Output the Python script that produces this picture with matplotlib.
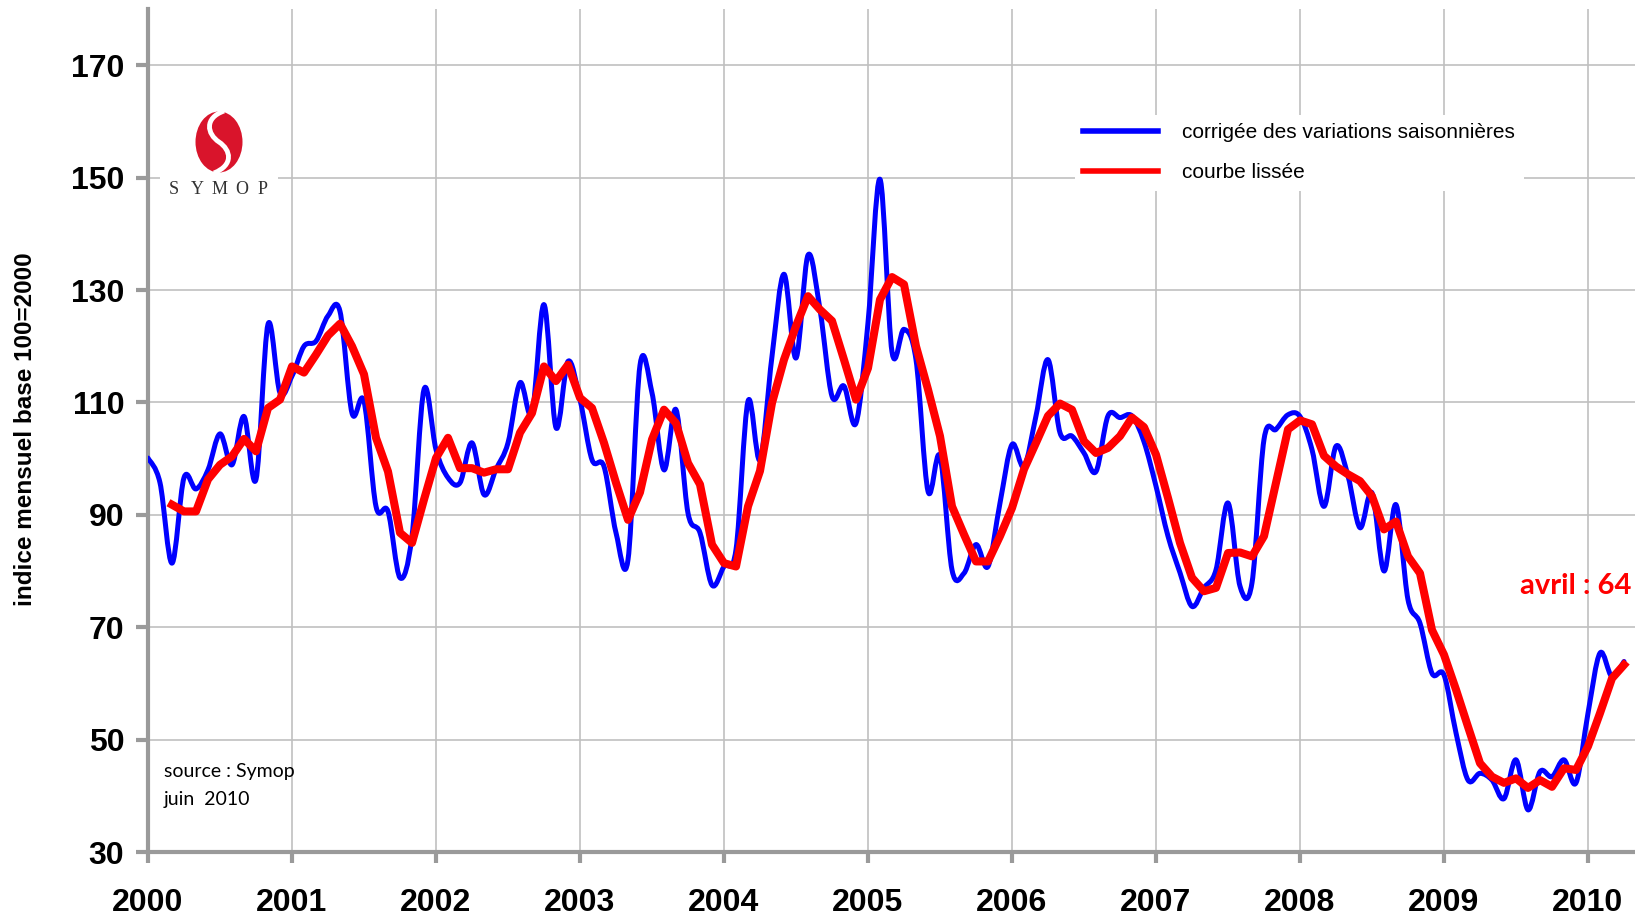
import matplotlib

matplotlib.use("Agg")
import matplotlib.pyplot as plt
import numpy as np
from matplotlib.lines import Line2D
from matplotlib.patches import Ellipse, PathPatch, Rectangle
from matplotlib.path import Path

plt.rcParams["font.family"] = ["Liberation Sans", "DejaVu Sans"]

# monthly index, base 100 = 2000 (Jan 2000 .. Apr 2010)
start_year = 2000
cvs = [
    100.1, 95.7, 81.4, 96.6, 94.6, 98.0, 104.4, 98.9, 107.5, 96.3, 123.9, 111.7,
    114.7, 120.0, 120.9, 125.4, 126.2, 108.1, 110.2, 91.5, 90.6, 78.8, 86.2, 112.3,
    101.6, 96.6, 95.7, 102.8, 93.6, 98.1, 102.8, 113.5, 108.1, 127.4, 105.5, 117.3,
    110.5, 99.8, 98.6, 86.8, 82.0, 116.6, 111.7, 98.0, 108.7, 90.3, 86.8, 77.5,
    80.8, 83.8, 110.2, 99.8, 118.2, 132.8, 117.9, 136.2, 126.5, 111.1, 112.9, 106.3,
    124.2, 149.7, 119.0, 123.0, 117.6, 94.2, 100.4, 80.2, 79.6, 84.7, 80.8, 92.1,
    102.5, 98.6, 107.6, 117.6, 104.6, 104.0, 101.0, 97.7, 107.6, 107.3, 107.6, 103.0,
    95.1, 86.2, 79.7, 73.7, 77.0, 80.2, 92.1, 77.3, 77.9, 103.4, 105.2, 107.8,
    107.5, 101.6, 91.5, 102.2, 96.9, 87.7, 93.9, 80.0, 91.8, 74.9, 70.7, 61.8,
    61.5, 51.2, 42.8, 44.0, 42.8, 39.5, 46.4, 37.5, 44.3, 43.4, 46.4, 42.3,
    54.7, 65.4, 61.2, 63.9,
]
# smoothed curve starts in March 2000
lisse_start = 2
lisse = [
    91.8, 90.6, 90.6, 96.3, 98.9, 100.4, 103.5, 101.3, 109.0, 110.5,
    116.4, 115.3, 118.5, 121.9, 124.0, 120.0, 115.0, 103.7, 97.7, 86.8, 85.0, 92.7,
    100.1, 103.7, 98.3, 98.3, 97.5, 98.1, 98.1, 104.6, 108.1, 116.4, 113.8, 116.7,
    110.8, 109.0, 102.8, 95.7, 89.1, 94.0, 103.4, 108.7, 106.3, 99.2, 95.4, 84.7,
    81.4, 80.8, 91.5, 97.8, 109.9, 117.6, 123.6, 128.9, 126.5, 124.5, 117.6, 110.5,
    116.1, 128.3, 132.3, 131.0, 120.0, 112.3, 104.0, 91.5, 86.5, 81.7, 81.7, 86.2,
    91.2, 98.1, 102.8, 107.6, 109.8, 108.7, 103.1, 101.0, 101.9, 104.0, 107.3, 105.6,
    100.7, 93.0, 85.0, 78.8, 76.4, 77.0, 83.2, 83.3, 82.6, 86.2, 95.7, 105.2,
    106.8, 106.1, 100.5, 98.6, 97.2, 96.0, 93.3, 87.4, 88.8, 82.6, 79.6, 69.5,
    65.1, 58.9, 52.3, 45.8, 43.4, 42.3, 43.1, 41.4, 42.8, 41.6, 44.9, 44.6,
    48.8, 54.7, 60.9, 63.3,
]
years = list(range(2000, 2011))
yticks = list(range(30, 171, 20))
labels = ["corrigée des variations saisonnières", "courbe lissée"]

BLUE = "#0000ff"
RED = "#ff0000"
AXIS_GREY = "#9a9a9a"


def smooth_path(x, y):
    # Excel-like smoothed line: Catmull-Rom segments as cubic Beziers
    pts = np.column_stack([x, y])
    ext = np.vstack([pts[0], pts, pts[-1]])
    verts = [pts[0]]
    codes = [Path.MOVETO]
    for i in range(1, len(ext) - 2):
        p0, p1, p2, p3 = ext[i - 1], ext[i], ext[i + 1], ext[i + 2]
        verts += [p1 + (p2 - p0) / 6.0, p2 - (p3 - p1) / 6.0, p2]
        codes += [Path.CURVE4] * 3
    return Path(verts, codes)


W, H = 1635, 917
fig = plt.figure(figsize=(W / 100, H / 100), dpi=100)
ax = fig.add_axes([148 / W, 65 / H, 1 - 148 / W, (852 - 9) / H])

x_cvs = start_year + np.arange(len(cvs)) / 12.0
x_lisse = start_year + (lisse_start + np.arange(len(lisse))) / 12.0

ax.add_patch(
    PathPatch(
        smooth_path(x_cvs, cvs),
        fill=False,
        edgecolor=BLUE,
        lw=3.6,
        capstyle="round",
        joinstyle="round",
        zorder=3,
    )
)
ax.plot(x_lisse, lisse, color=RED, lw=5.8, solid_joinstyle="round", zorder=4)

ax.set_xlim(2000, 2000 + (W - 148) / 144.0)
ax.set_ylim(30, 180)
ax.set_xticks(years)
ax.set_xticklabels([str(y) for y in years], fontsize=23, fontweight="bold")
ax.set_yticks(yticks)
ax.set_yticklabels([str(v) for v in yticks], fontsize=23, fontweight="bold")
ax.tick_params(axis="y", length=9, width=3, color=AXIS_GREY, pad=8)
ax.tick_params(axis="x", length=8, width=3, color=AXIS_GREY, pad=18)

for side in ["top", "right"]:
    ax.spines[side].set_visible(False)
for side in ["left", "bottom"]:
    ax.spines[side].set_color(AXIS_GREY)
    ax.spines[side].set_linewidth(3)
ax.set_axisbelow(True)
ax.grid(True, color="#c0c0c0", lw=1.2)

# legend
handles = [Line2D([], [], color=BLUE, lw=4), Line2D([], [], color=RED, lw=4)]
leg = ax.legend(
    handles,
    labels,
    loc="upper left",
    bbox_to_anchor=(1075 / W, 1 - 115 / H),
    bbox_transform=fig.transFigure,
    borderaxespad=0,
    borderpad=0.4,
    fontsize=15,
    handlelength=3.6,
    handletextpad=1.15,
    labelspacing=1.0,
    frameon=True,
    fancybox=False,
)
leg.get_frame().set_facecolor("white")
leg.get_frame().set_edgecolor("none")
leg.get_frame().set_alpha(1)

# logo area
ax.add_patch(
    Rectangle(
        (160 / W, 1 - 200 / H),
        118 / W,
        100 / H,
        transform=fig.transFigure,
        facecolor="white",
        edgecolor="none",
        zorder=1,
    )
)
logo = fig.add_axes([190 / W, 1 - 178 / H, 60 / W, 72 / H])
logo.set_xlim(0, 60)
logo.set_ylim(0, 72)
logo.axis("off")
logo.add_patch(Ellipse((29, 36), 47, 61, facecolor="#d9142b", edgecolor="none"))
swoosh = Path(
    [(34, 67), (14, 60), (17, 44), (29, 36), (41, 28), (44, 13), (24, 5)],
    [Path.MOVETO] + [Path.CURVE4] * 6,
)
logo.add_patch(PathPatch(swoosh, fill=False, edgecolor="white", lw=3.5))
for letter, lx in zip("SYMOP", [174, 197, 220, 242, 263]):
    fig.text(
        lx / W,
        1 - 189 / H,
        letter,
        ha="center",
        va="center",
        fontsize=13,
        family="Liberation Serif",
        color="#333333",
    )

fig.text(
    26 / W,
    1 - 429 / H,
    "indice mensuel base 100=2000",
    rotation=90,
    ha="center",
    va="center",
    fontsize=17.5,
    fontweight="bold",
)
fig.text(164 / W, 1 - 771 / H, "source : Symop", va="center", fontsize=14, family=["Lato", "DejaVu Sans"])
fig.text(164 / W, 1 - 800 / H, "juin  2010", va="center", fontsize=14, family=["Lato", "DejaVu Sans"])
fig.text(
    1520 / W,
    1 - 586 / H,
    "avril : 64",
    va="center",
    fontsize=21,
    fontweight="bold",
    color=RED,
    family=["Lato", "DejaVu Sans"],
)

fig.savefig("out.png", dpi=100)
